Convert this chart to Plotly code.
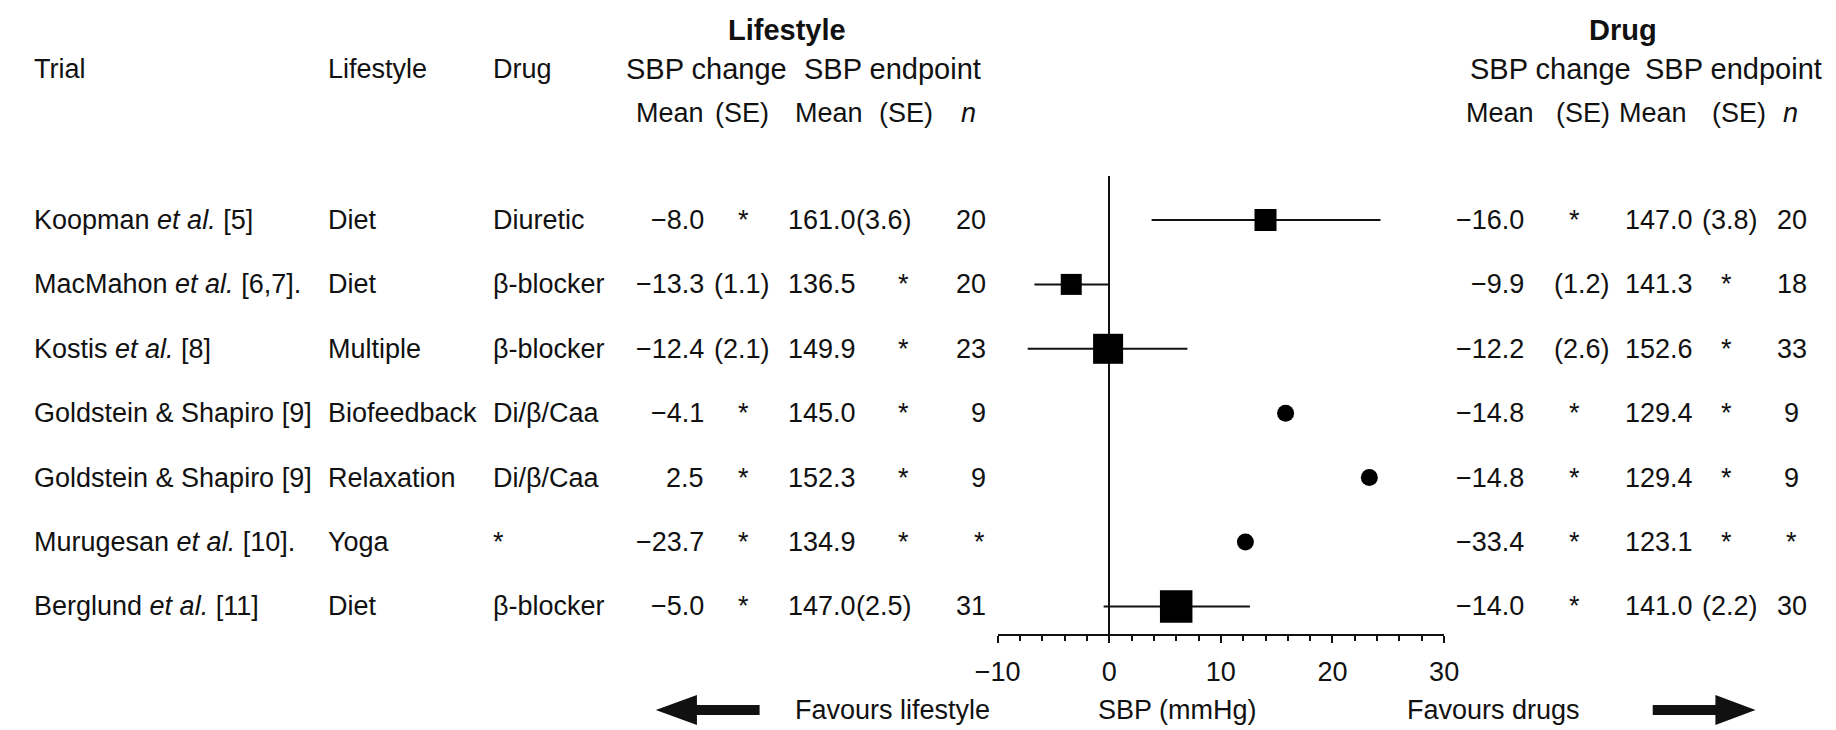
import plotly.graph_objects as go

# ---------------- data ----------------
trials = ["Koopman <i>et al.</i> [5]", "MacMahon <i>et al.</i> [6,7].", "Kostis <i>et al.</i> [8]",
          "Goldstein & Shapiro [9]", "Goldstein & Shapiro [9]", "Murugesan <i>et al.</i> [10].",
          "Berglund <i>et al.</i> [11]"]
lifestyle = ["Diet", "Diet", "Multiple", "Biofeedback", "Relaxation", "Yoga", "Diet"]
drug = ["Diuretic", "β-blocker", "β-blocker", "Di/β/Caa", "Di/β/Caa", "*", "β-blocker"]

ls_change_mean = ["−8.0", "−13.3", "−12.4", "−4.1", "2.5", "−23.7", "−5.0"]
ls_change_se = ["*", "(1.1)", "(2.1)", "*", "*", "*", "*"]
ls_end_mean = ["161.0", "136.5", "149.9", "145.0", "152.3", "134.9", "147.0"]
ls_end_se = ["(3.6)", "*", "*", "*", "*", "*", "(2.5)"]
ls_n = ["20", "20", "23", "9", "9", "*", "31"]

dr_change_mean = ["−16.0", "−9.9", "−12.2", "−14.8", "−14.8", "−33.4", "−14.0"]
dr_change_se = ["*", "(1.2)", "(2.6)", "*", "*", "*", "*"]
dr_end_mean = ["147.0", "141.3", "152.6", "129.4", "129.4", "123.1", "141.0"]
dr_end_se = ["(3.8)", "*", "*", "*", "*", "*", "(2.2)"]
dr_n = ["20", "18", "33", "9", "9", "*", "30"]

effect = [14.0, -3.4, -0.1, 15.8, 23.3, 12.2, 6.0]
ci_low = [3.8, -6.7, -7.3, None, None, None, -0.5]
ci_high = [24.3, 0.0, 7.0, None, None, None, 12.6]

tick_vals = [-10, 0, 10, 20, 30]

# ---------------- layout helpers ----------------
W, H = 1836, 730
OFF_X, OFF_Y = 6, 6                   # page body margin compensation (px)
FONT = "Liberation Sans, Arial, Helvetica, sans-serif"
FS = 27
FS_HEAD = 29
INK = "#111111"
ROW0, ROWSTEP = 218.0, 64.4          # pixel centre of first row, row spacing
AX_Y, TOP_Y = 632, 174               # x-axis line and top of zero line (px)
X_LEFT, X_RIGHT = 993, 1449          # pixel positions of x=-10 and x=30


def px(x):
    return (x - OFF_X) / W


def py(y):
    return 1 - (y - OFF_Y) / H


y_lo = (AX_Y - ROW0) / ROWSTEP
y_hi = (TOP_Y - ROW0) / ROWSTEP

rows = list(range(len(trials)))

fig = go.Figure()

# confidence-interval lines
cx, cy = [], []
for i, (lo, hi) in enumerate(zip(ci_low, ci_high)):
    if lo is not None:
        cx += [lo, hi, None]
        cy += [i, i, None]
fig.add_trace(go.Scatter(x=cx, y=cy, mode="lines", line=dict(color=INK, width=2),
                         hoverinfo="skip", showlegend=False))

# markers
symbols = ["square" if lo is not None else "circle" for lo in ci_low]
sizes = []
for i, lo in enumerate(ci_low):
    if lo is not None:
        sizes.append(2 + 0.5 * (int(ls_n[i]) + int(dr_n[i])))
    else:
        sizes.append(17)
fig.add_trace(go.Scatter(x=effect, y=rows, mode="markers",
                         marker=dict(symbol=symbols, size=sizes, color="#000000",
                                     opacity=1, line=dict(width=0)),
                         showlegend=False, cliponaxis=False))

ann = []


def add(text, x, y, anchor="left", yref="y", bold=False, size=FS):
    t = f"<b>{text}</b>" if bold else text
    ann.append(dict(text=t, x=px(x), y=(y if yref == "y" else py(y)), xref="paper", yref=yref,
                    xanchor=anchor, yanchor="middle", showarrow=False,
                    font=dict(family=FONT, size=size, color=INK)))


# headers
HY0, HY1, HY2 = 28, 67, 111
add("Lifestyle", 778, HY0, "center", "paper", bold=True, size=FS_HEAD)
add("Drug", 1632, HY0, "center", "paper", bold=True, size=FS_HEAD)
add("Trial", 7, HY1, "left", "paper")
add("Lifestyle", 307, HY1, "left", "paper")
add("Drug", 476, HY1, "left", "paper")
add("SBP change", 696, HY1, "center", "paper", size=FS_HEAD)
add("SBP endpoint", 886, HY1, "center", "paper", size=FS_HEAD)
add("SBP change", 1558, HY1, "center", "paper", size=FS_HEAD)
add("SBP endpoint", 1744, HY1, "center", "paper", size=FS_HEAD)
for txt, xc in [("Mean", 658), ("(SE)", 732), ("Mean", 821), ("(SE)", 900), ("<i>n</i>", 963),
                ("Mean", 1506), ("(SE)", 1591), ("Mean", 1662), ("(SE)", 1750), ("<i>n</i>", 1803)]:
    add(txt, xc, HY2, "center", "paper")

# table rows
for i in rows:
    add(trials[i], 7, i)
    add(lifestyle[i], 307, i)
    add(drug[i], 476, i)
    # lifestyle arm
    add(ls_change_mean[i], 695, i, "right")
    if ls_change_se[i] == "*":
        add("*", 734, i, "center")
    else:
        add(ls_change_se[i], 701, i, "left")
    add(ls_end_mean[i], 777, i, "left")
    if ls_end_se[i] == "*":
        add("*", 897, i, "center")
    else:
        add(ls_end_se[i], 846, i, "left")
    if ls_n[i] == "*":
        add("*", 975, i, "center")
    else:
        add(ls_n[i], 983, i, "right")
    # drug arm
    add(dr_change_mean[i], 1533, i, "right")
    if dr_change_se[i] == "*":
        add("*", 1582, i, "center")
    else:
        add(dr_change_se[i], 1559, i, "left")
    add(dr_end_mean[i], 1632, i, "left")
    if dr_end_se[i] == "*":
        add("*", 1737, i, "center")
    else:
        add(dr_end_se[i], 1710, i, "left")
    add(dr_n[i], 1804, i, "center")

# bottom labels
BY = 708
add("Favours lifestyle", 784, BY, "left", "paper")
add("SBP (mmHg)", 1093, BY, "left", "paper")
add("Favours drugs", 1409, BY, "left", "paper")


def arrow_path(tip, base_head, tail, yc, hh=15, sh=5):
    pts = [(tip, yc), (base_head, yc - hh), (base_head, yc - sh), (tail, yc - sh),
           (tail, yc + sh), (base_head, yc + sh), (base_head, yc + hh)]
    return "M " + " L ".join(f"{px(a):.5f},{py(b):.5f}" for a, b in pts) + " Z"


shapes = [
    dict(type="path", xref="paper", yref="paper", path=arrow_path(644, 686, 750, BY),
         fillcolor=INK, line=dict(width=0)),
    dict(type="path", xref="paper", yref="paper", path=arrow_path(1767, 1726, 1662, BY),
         fillcolor=INK, line=dict(width=0)),
]

fig.update_layout(
    width=W, height=H,
    margin=dict(l=0, r=0, t=0, b=0),
    paper_bgcolor="white", plot_bgcolor="white",
    showlegend=False,
    annotations=ann,
    shapes=shapes,
    font=dict(family=FONT, size=FS, color=INK),
    xaxis=dict(
        domain=[px(X_LEFT), px(X_RIGHT)],
        range=[-10, 30],
        tickmode="array", tickvals=tick_vals,
        ticks="outside", ticklen=7, tickwidth=1.5, tickcolor=INK,
        minor=dict(dtick=2, tick0=0, ticks="outside", ticklen=5, tickwidth=1.5, tickcolor=INK),
        showline=True, linecolor=INK, linewidth=2,
        showgrid=False,
        zeroline=True, zerolinecolor=INK, zerolinewidth=2,
        tickfont=dict(family=FONT, size=FS, color=INK),
        ticklabelstandoff=6,
        fixedrange=True,
    ),
    yaxis=dict(
        domain=[py(AX_Y), py(TOP_Y)],
        range=[y_lo, y_hi],
        visible=False, showgrid=False, zeroline=False,
        fixedrange=True,
    ),
)

fig.write_html("out.html")
